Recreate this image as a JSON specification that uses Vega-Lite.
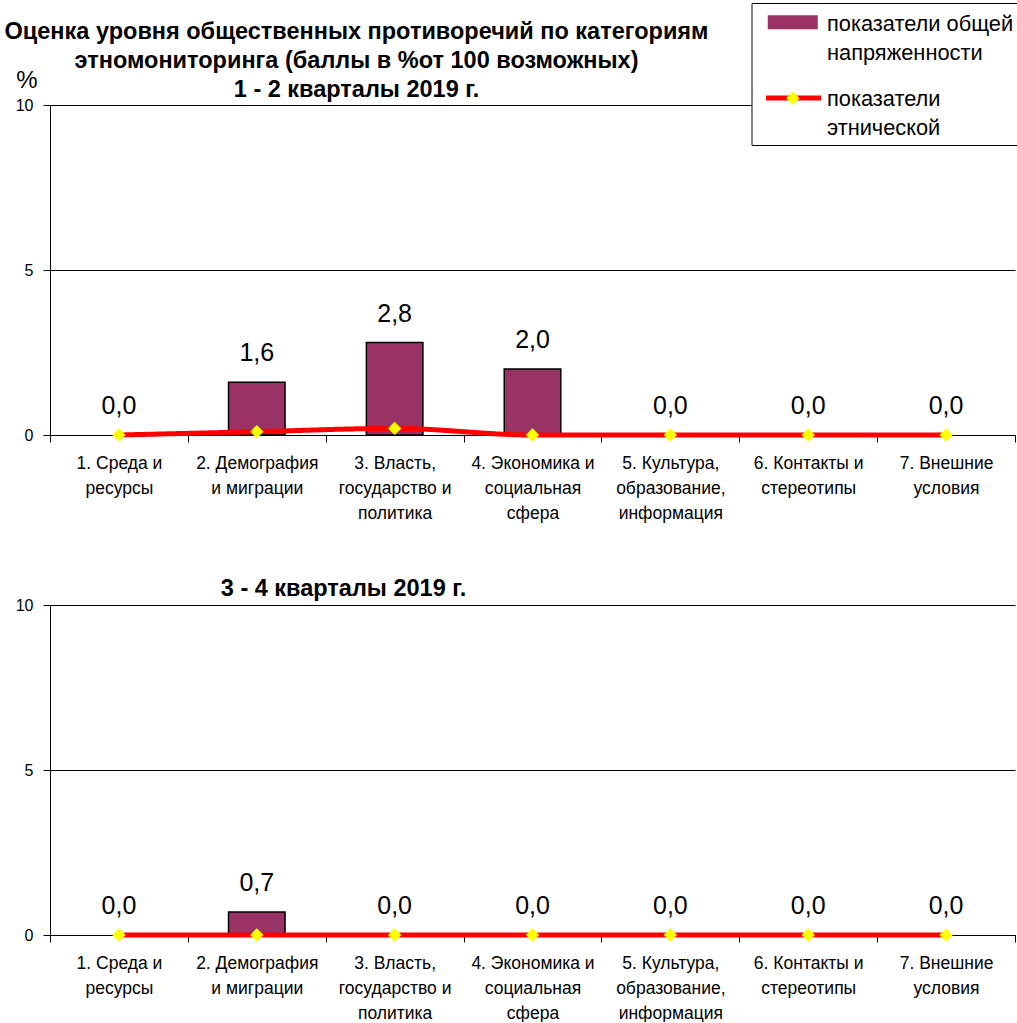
{
  "$schema": "https://vega.github.io/schema/vega-lite/v6.json",
  "padding": {"left": 4, "top": 2, "right": 0, "bottom": 0},
  "background": "white",
  "config": {
    "font": "Liberation Sans",
    "view": {"stroke": null},
    "style": {"guide-label": {"lineHeight": 29}},
    "locale": {"number": {"decimal": ",", "thousands": "\u00a0", "grouping": [3], "currency": ["", ""]}}
  },
  "datasets": {
    "h1": [
      {"cat": "1. Среда и\nресурсы", "general": 0.0, "ethnic": 0.0},
      {"cat": "2. Демография\nи миграции", "general": 1.6, "ethnic": 0.1},
      {"cat": "3. Власть,\nгосударство и\nполитика", "general": 2.8, "ethnic": 0.2},
      {"cat": "4. Экономика и\nсоциальная\nсфера", "general": 2.0, "ethnic": 0.0},
      {"cat": "5. Культура,\nобразование,\nинформация", "general": 0.0, "ethnic": 0.0},
      {"cat": "6. Контакты и\nстереотипы", "general": 0.0, "ethnic": 0.0},
      {"cat": "7. Внешние\nусловия", "general": 0.0, "ethnic": 0.0}
    ],
    "h2": [
      {"cat": "1. Среда и\nресурсы", "general": 0.0, "ethnic": 0.0},
      {"cat": "2. Демография\nи миграции", "general": 0.7, "ethnic": 0.0},
      {"cat": "3. Власть,\nгосударство и\nполитика", "general": 0.0, "ethnic": 0.0},
      {"cat": "4. Экономика и\nсоциальная\nсфера", "general": 0.0, "ethnic": 0.0},
      {"cat": "5. Культура,\nобразование,\nинформация", "general": 0.0, "ethnic": 0.0},
      {"cat": "6. Контакты и\nстереотипы", "general": 0.0, "ethnic": 0.0},
      {"cat": "7. Внешние\nусловия", "general": 0.0, "ethnic": 0.0}
    ]
  },
  "resolve": {
    "scale": {"color": "independent", "shape": "independent", "strokeWidth": "independent", "strokeDash": "independent"},
    "legend": {"color": "independent", "shape": "independent", "strokeWidth": "independent", "strokeDash": "independent"}
  },
  "spacing": 54,
  "vconcat": [
    {
      "width": 965,
      "height": 330,
      "data": {"name": "h1"},
      "title": {
        "text": ["Оценка уровня общественных противоречий по категориям", "этномониторинга (баллы в %от 100 возможных)", "1 - 2 кварталы 2019 г."],
        "font": "Liberation Sans", "fontSize": 23.5, "fontWeight": "bold", "lineHeight": 29,
        "anchor": "middle", "dx": -176, "offset": -99, "color": "black"
      },
      "encoding": {
        "x": {
          "field": "cat", "type": "nominal", "sort": null,
          "scale": {"paddingInner": 0, "paddingOuter": 0},
          "axis": {
            "title": null, "labelAngle": 0, "labelExpr": "split(datum.label, '\\n')",
            "labelFontSize": 17.5, "labelLineHeight": 25, "labelColor": "black", "labelPadding": 12,
            "tickBand": "extent", "tickSize": 7, "tickColor": "black", "domainColor": "black", "labelLimit": 200
          }
        }
      },
      "layer": [
        {
          "mark": {"type": "bar", "width": {"band": 0.41}, "stroke": "black"},
          "encoding": {
            "y": {
              "field": "general", "type": "quantitative",
              "scale": {"domain": [0, 10]},
              "axis": {
                "values": [0, 5, 10], "title": "%", "titleAngle": 0, "titleX": -23.5, "titleY": -25,
                "titleAlign": "center", "titleBaseline": "middle", "titleFontSize": 24, "titleFontWeight": "normal", "titleColor": "black",
                "grid": true, "gridColor": "black", "gridOpacity": 1, "domainColor": "black", "tickColor": "black", "tickSize": 7,
                "labelFontSize": 16, "labelColor": "black", "labelPadding": 10
              }
            },
            "strokeOpacity": {"condition": {"test": "datum.general > 0", "value": 1}, "value": 0},
            "color": {
              "datum": "показатели общей напряженности",
              "scale": {"domain": ["показатели общей напряженности", "показатели этнической"], "range": ["#993366", "#ff0000"]},
              "legend": {
                "orient": "none", "legendX": 701.5, "legendY": -102, "title": null, "zindex": 1,
                "strokeColor": "black", "fillColor": "white", "padding": 5,
                "symbolOpacity": 0, "symbolSize": 900, "symbolType": "square", "symbolStrokeWidth": 1.5,
                "labelFontSize": 21.8, "labelColor": "black", "labelLimit": 400, "labelOffset": 38.5,
                "labelExpr": "datum.label == 'показатели общей напряженности' ? ['показатели общей', 'напряженности'] : ['показатели', 'этнической']",
                "rowPadding": 18
              }
            },
            "strokeWidth": {
              "datum": "bar", "type": "nominal",
              "scale": {"type": "ordinal", "domain": ["bar"], "range": [1.5]},
              "legend": {
                "orient": "none", "legendX": 726.75, "legendY": -98.75, "title": null, "padding": 0, "zindex": 2,
                "labelExpr": "''", "symbolType": "M-1.667,-0.467H1.667V0.467H-1.667Z", "symbolSize": 900,
                "symbolFillColor": "#993366", "symbolStrokeColor": "black", "symbolOpacity": 1
              }
            }
          }
        },
        {
          "mark": {"type": "line", "strokeWidth": 5, "interpolate": "monotone", "color": "#ff0000"},
          "encoding": {
            "y": {"field": "ethnic", "type": "quantitative"},
            "strokeDash": {
              "datum": "ln", "type": "nominal",
              "scale": {"domain": ["ln"], "range": [[1, 0]]},
              "legend": {
                "orient": "none", "legendX": 726, "legendY": -24.5, "title": null, "padding": 0, "zindex": 2,
                "labelExpr": "''", "symbolType": "M-1.833,0H1.833", "symbolSize": 900,
                "symbolStrokeColor": "#ff0000", "symbolStrokeWidth": 5, "symbolOpacity": 1
              }
            }
          }
        },
        {
          "mark": {"type": "point", "filled": true, "fill": "#ffff00", "opacity": 1, "size": 180, "strokeWidth": 0},
          "encoding": {
            "y": {"field": "ethnic", "type": "quantitative"},
            "shape": {
              "datum": "dot", "type": "nominal",
              "scale": {"domain": ["dot"], "range": ["diamond"]},
              "legend": {
                "orient": "none", "legendX": 735.8, "legendY": -13.7, "title": null, "padding": 0, "zindex": 3,
                "labelExpr": "''", "symbolFillColor": "#ffff00", "symbolStrokeWidth": 0, "symbolSize": 180, "symbolOpacity": 1
              }
            }
          }
        },
        {
          "mark": {"type": "text", "fontSize": 25, "baseline": "middle", "dy": -29, "color": "black"},
          "encoding": {
            "y": {"field": "general", "type": "quantitative"},
            "text": {"field": "general", "type": "quantitative", "format": ".1f"}
          }
        }
      ]
    },
    {
      "width": 965,
      "height": 330,
      "data": {"name": "h2"},
      "title": {
        "text": "3 - 4 кварталы 2019 г.",
        "font": "Liberation Sans", "fontSize": 23.5, "fontWeight": "bold",
        "anchor": "middle", "dx": -189, "offset": -3, "color": "black"
      },
      "encoding": {
        "x": {
          "field": "cat", "type": "nominal", "sort": null,
          "scale": {"paddingInner": 0, "paddingOuter": 0},
          "axis": {
            "title": null, "labelAngle": 0, "labelExpr": "split(datum.label, '\\n')",
            "labelFontSize": 17.5, "labelLineHeight": 25, "labelColor": "black", "labelPadding": 12,
            "tickBand": "extent", "tickSize": 7, "tickColor": "black", "domainColor": "black", "labelLimit": 200
          }
        }
      },
      "layer": [
        {
          "mark": {"type": "bar", "width": {"band": 0.41}, "stroke": "black", "strokeWidth": 1.5, "color": "#993366"},
          "encoding": {
            "y": {
              "field": "general", "type": "quantitative",
              "scale": {"domain": [0, 10]},
              "axis": {
                "values": [0, 5, 10], "title": null,
                "grid": true, "gridColor": "black", "gridOpacity": 1, "domainColor": "black", "tickColor": "black", "tickSize": 7,
                "labelFontSize": 16, "labelColor": "black", "labelPadding": 10
              }
            },
            "strokeOpacity": {"condition": {"test": "datum.general > 0", "value": 1}, "value": 0}
          }
        },
        {
          "mark": {"type": "line", "strokeWidth": 5, "interpolate": "monotone", "color": "#ff0000"},
          "encoding": {
            "y": {"field": "ethnic", "type": "quantitative"}
          }
        },
        {
          "mark": {"type": "point", "filled": true, "fill": "#ffff00", "opacity": 1, "size": 180, "strokeWidth": 0, "shape": "diamond"},
          "encoding": {
            "y": {"field": "ethnic", "type": "quantitative"}
          }
        },
        {
          "mark": {"type": "text", "fontSize": 25, "baseline": "middle", "dy": -29, "color": "black"},
          "encoding": {
            "y": {"field": "general", "type": "quantitative"},
            "text": {"field": "general", "type": "quantitative", "format": ".1f"}
          }
        }
      ]
    }
  ]
}
